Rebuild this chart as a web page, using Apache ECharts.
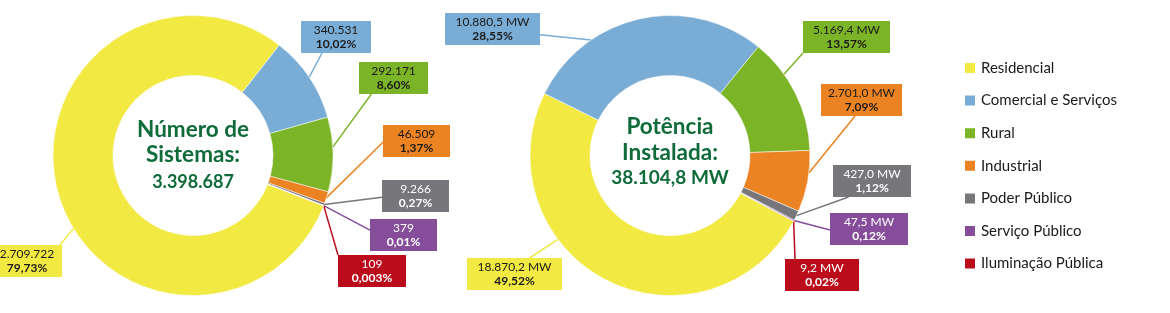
<!DOCTYPE html>
<html>
<head>
<meta charset="utf-8">
<script src="https://cdn.jsdelivr.net/npm/echarts@6/dist/echarts.min.js"></script>
<style>
html,body{margin:0;padding:0;background:#fff;}
#chart{width:1170px;height:313px;}
</style>
</head>
<body>
<div id="chart"></div>
<script>
// ---- data ----
const categories = ['Residencial', 'Comercial e Serviços', 'Rural', 'Industrial', 'Poder Público', 'Serviço Público', 'Iluminação Pública'];
const sistemasValues = [2709722, 340531, 292171, 46509, 9266, 379, 109];
const sistemasPercent = ['79,73%', '10,02%', '8,60%', '1,37%', '0,27%', '0,01%', '0,003%'];
const potenciaValues = [18870.2, 10880.5, 5169.4, 2701.0, 427.0, 47.5, 9.2];
const potenciaPercent = ['49,52%', '28,55%', '13,57%', '7,09%', '1,12%', '0,12%', '0,02%'];
const titleSistemas = ['Número de', 'Sistemas:'];
const titlePotencia = ['Potência', 'Instalada:'];

// ---- styles ----
const colors = ['#f2e943', '#7aadd5', '#7cb428', '#ec8322', '#77767b', '#864e9a', '#bb0c1c'];
const labelTextColors = ['#1a1a1a', '#1a1a1a', '#1a1a1a', '#1a1a1a', '#ffffff', '#ffffff', '#ffffff'];
const green = '#0f6b3a';

// ---- label box layout: [x, y, width, anchorFx, anchorFy, angleShiftDeg] ----
const leftBoxes = [
  [-8, 245, 70, 0.97, 0, -16],
  [301, 21, 70, 0.30, 1, 0],
  [359, 62, 69, 0.18, 1, -3],
  [383, 125, 67, 0, 0.54, 0],
  [382, 180, 67, 0, 0.54, 0],
  [370, 219, 67, 0, 0.35, 0],
  [338, 255, 68, 0, 0, 0]
];
const rightBoxes = [
  [467, 258, 95, 0.66, 0, 26],
  [445, 13, 95, 1, 0.68, -22],
  [803, 21, 87, 0, 1, -9],
  [821, 84, 81, 0.42, 1, -3.5],
  [833, 165, 78, 0.2, 1, 0],
  [830, 213, 78, 0, 0.53, 0],
  [785, 259, 74, 0.135, 0, 0]
];

function fmtNum(v, decimals) {
  const parts = v.toFixed(decimals).split('.');
  const intPart = parts[0].replace(/\B(?=(\d{3})+(?!\d))/g, '.');
  return parts.length > 1 ? intPart + ',' + parts[1] : intPart;
}

function buildData(values, percents, boxes, unit, decimals) {
  return categories.map((name, i) => ({
    name: name,
    value: values[i],
    itemStyle: { color: colors[i] },
    label: {
      width: boxes[i][2],
      formatter: '{v|' + fmtNum(values[i], decimals) + unit + '}\n{p|' + percents[i] + '}',
      backgroundColor: colors[i],
      rich: {
        v: { color: labelTextColors[i], fontSize: 12, lineHeight: 14, fontFamily: 'Lato', align: 'center' },
        p: { color: labelTextColors[i], fontSize: 12, lineHeight: 14, fontFamily: 'Lato', fontWeight: 'bold', align: 'center' }
      }
    },
    labelLine: { lineStyle: { color: colors[i] } }
  }));
}

function makeLayout(boxes, cx, cy, r) {
  return function (p) {
    const b = boxes[p.dataIndex];
    const h = 32;
    const ex = b[0] + b[2] * b[3];
    const ey = b[1] + h * b[4];
    const res = { x: b[0], y: b[1], align: 'left', verticalAlign: 'top' };
    const p0 = p.labelLinePoints && p.labelLinePoints[0];
    if (p0) {
      const a = Math.atan2(p0[1] - cy, p0[0] - cx) + (b[5] || 0) * Math.PI / 180;
      res.labelLinePoints = [[cx + r * Math.cos(a), cy + r * Math.sin(a)], [ex, ey]];
    }
    return res;
  };
}

const L = { cx: 193, cy: 155.5 };
const R = { cx: 670, cy: 155.5 };
const rIn = 80, rOut = 140;

function pieSeries(name, values, percents, boxes, unit, decimals, c, startAngle) {
  return {
    type: 'pie',
    name: name,
    center: [c.cx, c.cy],
    radius: [rIn, rOut],
    startAngle: startAngle,
    clockwise: true,
    avoidLabelOverlap: false,
    silent: true,
    itemStyle: { borderColor: '#ffffff', borderWidth: 0.5 },
    label: {
      show: true,
      position: 'outside',
      padding: [2, 0, 2, 0],
      overflow: 'none'
    },
    labelLine: { show: true, length: 10, length2: 10, lineStyle: { width: 1.5 } },
    labelLayout: makeLayout(boxes, c.cx, c.cy, rOut),
    data: buildData(values, percents, boxes, unit, decimals)
  };
}

const totalSistemas = sistemasValues.reduce((a, b) => a + b, 0);
const totalPotencia = potenciaValues.reduce((a, b) => a + b, 0);

function centerText(x, y, text, size) {
  return {
    type: 'text', x: x, y: y, silent: true,
    style: {
      text: text, fill: green, align: 'center', verticalAlign: 'middle',
      font: 'bold ' + size + 'px Lato'
    }
  };
}

const chart = echarts.init(document.getElementById('chart'), null, { renderer: 'canvas' });
chart.setOption({
  animation: false,
  legend: {
    orient: 'vertical',
    left: 958,
    top: 55,
    icon: 'rect',
    itemWidth: 12,
    itemHeight: 12,
    itemGap: 16.6,
    selectedMode: false,
    data: categories,
    textStyle: { fontFamily: 'Lato', fontSize: 15, lineHeight: 16, color: '#1a1a1a' }
  },
  graphic: [
    centerText(L.cx, 130, titleSistemas[0], 22.5),
    centerText(L.cx, 155, titleSistemas[1], 22.5),
    centerText(L.cx, 182, fmtNum(totalSistemas, 0), 18),
    centerText(R.cx, 127, titlePotencia[0], 22.5),
    centerText(R.cx, 152.5, titlePotencia[1], 22.5),
    centerText(R.cx, 177.5, fmtNum(totalPotencia, 1) + ' MW', 19)
  ],
  series: [
    pieSeries('Número de Sistemas', sistemasValues, sistemasPercent, leftBoxes, '', 0, L, -21),
    pieSeries('Potência Instalada', potenciaValues, potenciaPercent, rightBoxes, ' MW', 1, R, -28)
  ]
});
</script>
</body>
</html>
